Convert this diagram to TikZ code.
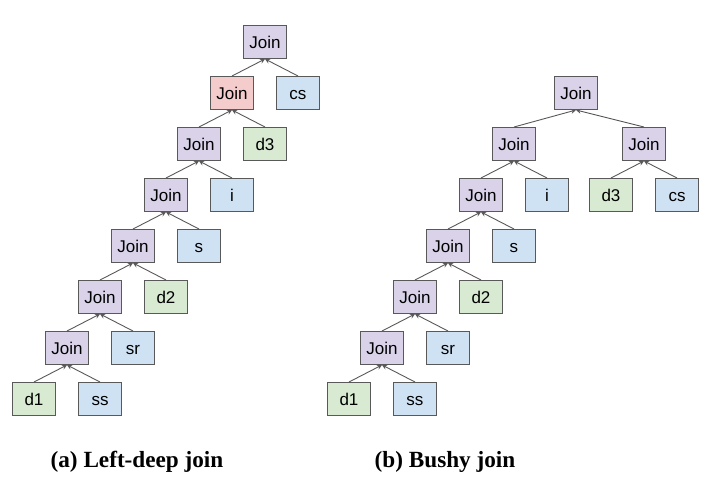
\documentclass[tikz,border=0pt]{standalone}
\usepackage{fontspec}
\setmainfont{Liberation Sans}
\newfontfamily\capfont{Liberation Serif}
\usepackage{tikz}
\usetikzlibrary{positioning,arrows.meta}
\definecolor{joinpurple}{HTML}{D9D2E9}
\definecolor{joinred}{HTML}{F4CCCC}
\definecolor{leafblue}{HTML}{CFE2F3}
\definecolor{leafgreen}{HTML}{D9EAD3}
\definecolor{edgegray}{HTML}{595959}

\begin{document}
\begin{tikzpicture}[x=0.5pt,y=-0.5pt,font=\fontsize{8.5}{10}\selectfont,
 on grid,node distance=25.5pt and 16.5pt,
 box/.style={draw=edgegray,line width=0.5pt,minimum width=21.5pt,minimum height=16.5pt,inner sep=1pt,text height=6.1pt,text depth=0pt},
 jn/.style={box,fill=joinpurple},
 lfb/.style={box,fill=leafblue},
 lfg/.style={box,fill=leafgreen},
 ar/.style={-{Stealth[length=2.5pt,width=2.5pt]},draw=edgegray,line width=0.45pt},
 captext/.style={font=\capfont\bfseries\fontsize{11.6}{13}\selectfont}]
\useasboundingbox (0,0) rectangle (720,494);
% (a) left-deep
\node[jn] (a0) at (265,42) {Join};
\node[jn,fill=joinred,below left=of a0] (a1) {Join};
\node[lfb,below right=of a0] (acs) {cs};
\node[jn,below left=of a1] (a2) {Join};
\node[lfg,below right=of a1] (ad3) {d3};
\node[jn,below left=of a2] (a3) {Join};
\node[lfb,below right=of a2] (ai) {i};
\node[jn,below left=of a3] (a4) {Join};
\node[lfb,below right=of a3] (as) {s};
\node[jn,below left=of a4] (a5) {Join};
\node[lfg,below right=of a4] (ad2) {d2};
\node[jn,below left=of a5] (a6) {Join};
\node[lfb,below right=of a5] (asr) {sr};
\node[lfg,below left=of a6] (ad1) {d1};
\node[lfb,below right=of a6] (ass) {ss};
\draw[ar] (a1.north) -- (a0.south); \draw[ar] (acs.north) -- (a0.south);
\draw[ar] (a2.north) -- (a1.south); \draw[ar] (ad3.north) -- (a1.south);
\draw[ar] (a3.north) -- (a2.south); \draw[ar] (ai.north) -- (a2.south);
\draw[ar] (a4.north) -- (a3.south); \draw[ar] (as.north) -- (a3.south);
\draw[ar] (a5.north) -- (a4.south); \draw[ar] (ad2.north) -- (a4.south);
\draw[ar] (a6.north) -- (a5.south); \draw[ar] (asr.north) -- (a5.south);
\draw[ar] (ad1.north) -- (a6.south); \draw[ar] (ass.north) -- (a6.south);
% (b) bushy
\node[jn] (b0) at (576,93) {Join};
\node[jn,below left=25.5pt and 31pt of b0] (b1) {Join};
\node[jn,below right=25.5pt and 34pt of b0] (b2) {Join};
\node[lfg,below left=of b2] (bd3) {d3};
\node[lfb,below right=of b2] (bcs) {cs};
\node[jn,below left=of b1] (b3) {Join};
\node[lfb,below right=of b1] (bi) {i};
\node[jn,below left=of b3] (b4) {Join};
\node[lfb,below right=of b3] (bs) {s};
\node[jn,below left=of b4] (b5) {Join};
\node[lfg,below right=of b4] (bd2) {d2};
\node[jn,below left=of b5] (b6) {Join};
\node[lfb,below right=of b5] (bsr) {sr};
\node[lfg,below left=of b6] (bd1) {d1};
\node[lfb,below right=of b6] (bss) {ss};
\draw[ar] (b1.north) -- (b0.south); \draw[ar] (b2.north) -- (b0.south);
\draw[ar] (bd3.north) -- (b2.south); \draw[ar] (bcs.north) -- (b2.south);
\draw[ar] (b3.north) -- (b1.south); \draw[ar] (bi.north) -- (b1.south);
\draw[ar] (b4.north) -- (b3.south); \draw[ar] (bs.north) -- (b3.south);
\draw[ar] (b5.north) -- (b4.south); \draw[ar] (bd2.north) -- (b4.south);
\draw[ar] (b6.north) -- (b5.south); \draw[ar] (bsr.north) -- (b5.south);
\draw[ar] (bd1.north) -- (b6.south); \draw[ar] (bss.north) -- (b6.south);
% captions
\node[captext] (capa) at (137,462) {(a) Left-deep join};
\node[captext] (capb) at (445,462) {(b) Bushy join};
\end{tikzpicture}
\end{document}
